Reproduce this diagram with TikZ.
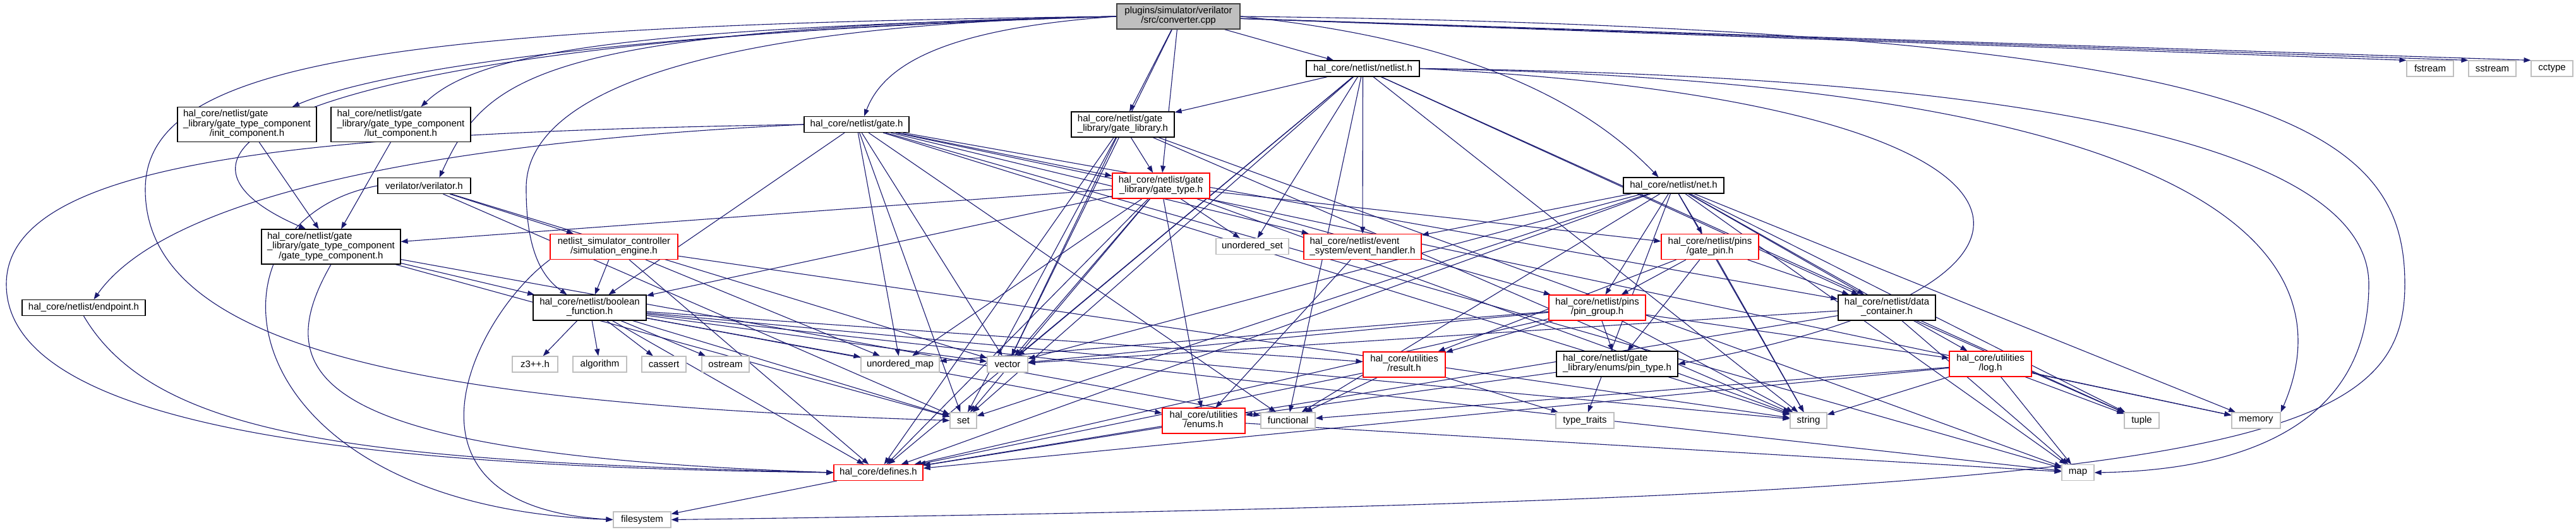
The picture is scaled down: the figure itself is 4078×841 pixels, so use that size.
\documentclass[tikz,border=0pt]{standalone}
\usepackage{fontspec}
\setmainfont{Liberation Sans}
\usetikzlibrary{arrows.meta}
\usetikzlibrary{backgrounds}
\definecolor{edgeblue}{HTML}{191970}
\newcommand{\lbl}[2]{\begin{tabular}{@{}l@{}}#1\\\multicolumn{1}{@{}c@{}}{#2}\end{tabular}}

\begin{document}
\begin{tikzpicture}[x=0.5pt,y=-0.5pt,
        >={Triangle[length=5.5pt,width=4pt]},
        every node/.style={font=\fontsize{7.5}{7.4}\selectfont, inner sep=1pt},
        box/.style={draw=black, fill=white, line width=0.6pt},
        redbox/.style={draw=red, fill=white, line width=0.6pt},
        sysbox/.style={draw=gray!50, fill=white, line width=0.6pt},
        rootbox/.style={draw=black!75, fill=gray!50, line width=0.6pt},
        one/.style={minimum height=12.5pt},
        two/.style={minimum height=20pt},
        three/.style={minimum height=27.5pt},
        incl/.style={->, draw=edgeblue, line width=0.55pt}]
        \useasboundingbox (0,0) rectangle (4078,841);
        \node[rootbox, two, minimum width=97.5pt] (conv) at (1865.5,26) {\lbl{plugins/simulator/verilator}{/src/converter.cpp}};
        \node[box, one, minimum width=89.5pt] (netlist) at (2157.5,108.5) {hal\_core/netlist/netlist.h};
        \node[sysbox, one, minimum width=37pt] (fstream) at (3847,108.5) {fstream};
        \node[sysbox, one, minimum width=37.5pt] (sstream) at (3945.5,108.5) {sstream};
        \node[sysbox, one, minimum width=33pt] (cctype) at (4040,108.5) {cctype};
        \node[box, three, minimum width=110pt] (initc) at (391,197) {\lbl{hal\_core/netlist/gate\\\_library/gate\_type\_component}{/init\_component.h}};
        \node[box, three, minimum width=110.5pt] (lutc) at (634.5,197) {\lbl{hal\_core/netlist/gate\\\_library/gate\_type\_component}{/lut\_component.h}};
        \node[box, two, minimum width=81.5pt] (gatelib) at (1777.5,197) {\lbl{hal\_core/netlist/gate}{\_library/gate\_library.h}};
        \node[box, one, minimum width=83pt] (gate) at (1356,197) {hal\_core/netlist/gate.h};
        \node[box, one, minimum width=73.5pt] (verilator) at (671.5,294) {verilator/verilator.h};
        \node[redbox, two, minimum width=77pt] (gatetype) at (1838,294) {\lbl{hal\_core/netlist/gate}{\_library/gate\_type.h}};
        \node[box, one, minimum width=79.5pt] (net) at (2649.5,293.5) {hal\_core/netlist/net.h};
        \node[box, three, minimum width=110pt] (gtc) at (524,390.5) {\lbl{hal\_core/netlist/gate\\\_library/gate\_type\_component}{/gate\_type\_component.h}};
        \node[redbox, two, minimum width=101pt] (simeng) at (972,390.5) {\lbl{netlist\_simulator\_controller}{/simulation\_engine.h}};
        \node[sysbox, one, minimum width=57.5pt] (uset) at (1982.5,390) {unordered\_set};
        \node[redbox, two, minimum width=93pt] (evh) at (2157,390.5) {\lbl{hal\_core/netlist/event}{\_system/event\_handler.h}};
        \node[redbox, two, minimum width=77pt] (gatepin) at (2707,390.5) {\lbl{hal\_core/netlist/pins}{/gate\_pin.h}};
        \node[box, one, minimum width=97.5pt] (endpoint) at (132.5,487) {hal\_core/netlist/endpoint.h};
        \node[box, two, minimum width=89.5pt] (boolfn) at (933.5,487) {\lbl{hal\_core/netlist/boolean}{\_function.h}};
        \node[redbox, two, minimum width=76.5pt] (pingroup) at (2528.5,487) {\lbl{hal\_core/netlist/pins}{/pin\_group.h}};
        \node[box, two, minimum width=77pt] (datac) at (2987,487) {\lbl{hal\_core/netlist/data}{\_container.h}};
        \node[sysbox, one, minimum width=36pt] (z3) at (847,576.5) {z3++.h};
        \node[sysbox, one, minimum width=42.5pt] (algorithm) at (949.5,576.5) {algorithm};
        \node[sysbox, one, minimum width=35pt] (cassert) at (1051,576.5) {cassert};
        \node[sysbox, one, minimum width=37.5pt] (ostream) at (1148.5,576.5) {ostream};
        \node[sysbox, one, minimum width=62pt] (umap) at (1425,576.5) {unordered\_map};
        \node[sysbox, one, minimum width=32pt] (vector) at (1595,576.5) {vector};
        \node[redbox, two, minimum width=65pt] (result) at (2223,577) {\lbl{hal\_core/utilities}{/result.h}};
        \node[box, two, minimum width=96pt] (pintype) at (2560,576) {\lbl{hal\_core/netlist/gate}{\_library/enums/pin\_type.h}};
        \node[redbox, two, minimum width=65pt] (log) at (3151,576) {\lbl{hal\_core/utilities}{/log.h}};
        \node[sysbox, one, minimum width=21pt] (set) at (1525,665.5) {set};
        \node[redbox, two, minimum width=65.5pt] (enums) at (1905.5,666) {\lbl{hal\_core/utilities}{/enums.h}};
        \node[sysbox, one, minimum width=43pt] (functional) at (2039,665.5) {functional};
        \node[sysbox, one, minimum width=46pt] (typetraits) at (2509,665.5) {type\_traits};
        \node[sysbox, one, minimum width=29pt] (string) at (2863,665.5) {string};
        \node[sysbox, one, minimum width=27.5pt] (tuple) at (3390.5,665.5) {tuple};
        \node[sysbox, one, minimum width=38.5pt] (memory) at (3571.5,665.5) {memory};
        \node[redbox, one, minimum width=70.5pt] (defines) at (1390.5,748) {hal\_core/defines.h};
        \node[sysbox, one, minimum width=25.5pt] (map) at (3289.5,748) {map};
        \node[sysbox, one, minimum width=45.5pt] (filesystem) at (1016.5,822.5) {filesystem};

        \begin{scope}[on background layer]
        \foreach \dst in {netlist,gatelib,gatetype,vector}
                \draw[incl] (conv) -- (\dst);
        \foreach \dst in {fstream,sstream,cctype}
                \draw[incl] (conv) -- (\dst.north west);
        \draw[incl] (conv.west) .. controls (1000,50) and (600,110) .. ([xshift=36pt]initc.north);
        \draw[incl] (conv.west) .. controls (1000,45) and (760,80) .. ([xshift=16pt]lutc.north);
        \draw[incl] (conv.west) .. controls (850,45) and (770,120) .. ([xshift=12pt]verilator.north);
        \draw[incl] (conv.west) .. controls (500,60) and (180,230) .. ([xshift=-20pt]gtc.north);
        \draw[incl] (conv.west) .. controls (1500,45) and (1400,100) .. ([xshift=6pt]gate.north);
        \draw[incl] (conv.west) .. controls (1100,40) and (830,150) .. (833,300) .. controls (833,400) and (860,440) .. ([xshift=-18pt]boolfn.north);
        \draw[incl] (conv.west) .. controls (600,40) and (230,100) .. (230,300) .. controls (230,560) and (700,640) .. (set.west);
        \draw[incl] (conv.east) .. controls (2300,60) and (2500,150) .. ([xshift=-12pt]net.north);
        \draw[incl] (conv.east) .. controls (3600,45) and (3807,200) .. (3807,450) .. controls (3807,720) and (3500,790) .. (filesystem.east);

        \foreach \dst in {gatelib,uset,evh,datac,defines,set,vector,functional,string,tuple}
                \draw[incl] (netlist) -- (\dst);
        \draw[incl] (netlist.east) .. controls (3300,120) and (3750,250) .. (3750,450) .. controls (3750,700) and (3500,745) .. (map.east);
        \draw[incl] (netlist.east) .. controls (3500,130) and (3720,400) .. (memory.north east);
        \draw[incl] (netlist.east) .. controls (3300,160) and (3360,450) .. (pintype.east);

        \draw[incl] (initc) -- (gtc);
        \draw[incl] (lutc) -- (gtc);
        \foreach \dst in {gatetype,defines,set,vector,string,map}
                \draw[incl] (gatelib) -- (\dst);

        \foreach \dst in {gatetype,evh,boolfn,umap,vector,set,functional,datac,string,memory,map}
                \draw[incl] (gate) -- (\dst);
        \draw[incl] (gate.west) .. controls (600,230) and (250,330) .. ([xshift=8pt]endpoint.north);
        \draw[incl] (gate.west) .. controls (500,210) and (10,250) .. (10,450) .. controls (10,700) and (700,740) .. (defines.west);

        \foreach \dst in {simeng,set,vector}
                \draw[incl] (verilator) -- (\dst);
        \draw[incl] (verilator.west) .. controls (300,350) and (350,800) .. (filesystem.west);

        \foreach \dst in {gtc,boolfn,uset,gatepin,pingroup,enums,defines,umap,vector,set,string}
                \draw[incl] (gatetype) -- (\dst);
        \foreach \dst in {evh,gatepin,pingroup,datac,defines,vector,set,functional,string,memory,map,tuple,log,typetraits}
                \draw[incl] (net) -- (\dst);

        \foreach \dst in {boolfn,set,functional}
                \draw[incl] (gtc) -- (\dst);
        \draw[incl] (gtc.south) .. controls (420,600) and (500,720) .. (defines.west);
        \foreach \dst in {boolfn,defines,umap,string}
                \draw[incl] (simeng) -- (\dst);
        \draw[incl] (simeng.south west) .. controls (750,500) and (600,800) .. (filesystem.west);
        \draw[incl] (evh) -- (enums);
        \foreach \dst in {pingroup,pintype,datac,result,string}
                \draw[incl] (gatepin) -- (\dst);
        \draw[incl] (endpoint.south) .. controls (250,700) and (600,730) .. (defines.west);

        \foreach \dst in {z3,algorithm,cassert,ostream,umap,vector,set,defines,result,enums,string,map}
                \draw[incl] (boolfn) -- (\dst);
        \foreach \dst in {pintype,result,log,string,defines,vector,umap}
                \draw[incl] (pingroup) -- (\dst);
        \foreach \dst in {defines,vector,tuple,map}
                \draw[incl] (datac) -- (\dst);
        \foreach \dst in {defines,functional,typetraits}
                \draw[incl] (result) -- (\dst);
        \draw[incl] (pintype) -- (enums);
        \foreach \dst in {defines,map,tuple,memory,string,functional}
                \draw[incl] (log) -- (\dst);
        \draw[incl] (enums) -- (defines);
        \draw[incl] (enums) -- (map);
        \draw[incl] (defines) -- (filesystem);
        \end{scope}
\end{tikzpicture}
\end{document}
